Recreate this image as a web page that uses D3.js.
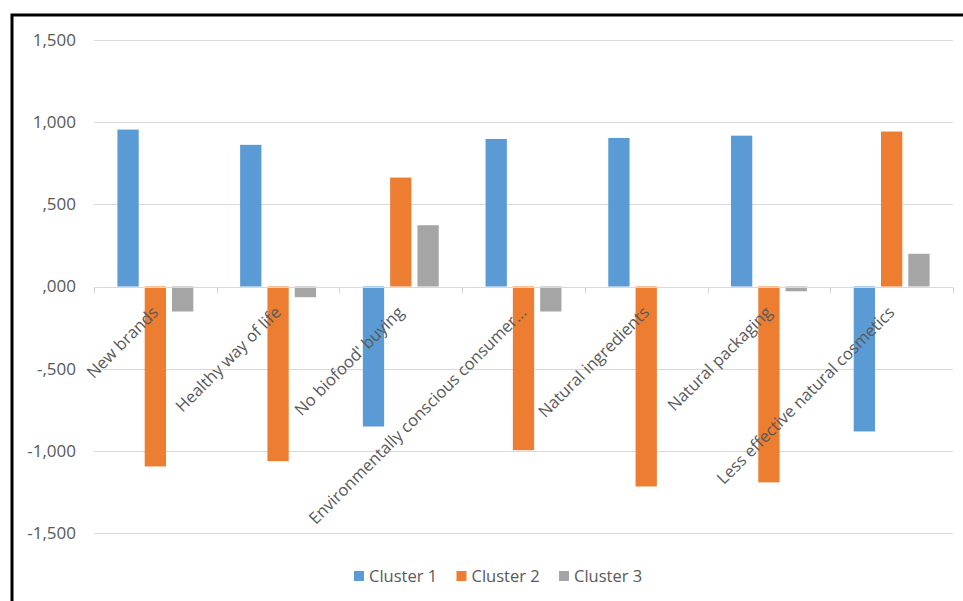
<!DOCTYPE html>
<html>
<head>
<meta charset="utf-8">
<script src="https://cdn.jsdelivr.net/npm/d3@7"></script>
<style>
  html, body { margin: 0; padding: 0; background: #fff; }
  svg { display: block; }
  text { font-family: "Open Sans", "Noto Sans", sans-serif; fill: #595959; }
</style>
</head>
<body>
<svg id="chart" width="963" height="601"></svg>
<script>
const categories = [
  "New brands",
  "Healthy way of life",
  "No biofood' buying",
  "Environmentally conscious consumer...",
  "Natural ingredients",
  "Natural packaging",
  "Less effective natural cosmetics"
];
const seriesNames = ["Cluster 1", "Cluster 2", "Cluster 3"];
const cluster1 = [955, 862, -852, 898, 904, 918, -882];
const cluster2 = [-1095, -1063, 663, -996, -1217, -1192, 943];
const cluster3 = [-152, -65, 373, -152, 0, -29, 199];
const yTicks = [1500, 1000, 500, 0, -500, -1000, -1500];
const yTickLabels = ["1,500", "1,000", ",500", ",000", "-,500", "-1,000", "-1,500"];
const colors = ["#5B9BD5", "#ED7D31", "#A5A5A5"];

const series = [cluster1, cluster2, cluster3];
const svg = d3.select("#chart");

// frame
svg.append("path")
  .attr("d", "M12,601 L12,15 L963,15")
  .attr("fill", "none").attr("stroke", "#000").attr("stroke-width", 3);

const x0 = d3.scaleBand().domain(categories).range([94, 953]).paddingInner(0).paddingOuter(0);
const y = d3.scaleLinear().domain([-1500, 1500]).range([533, 40]);
const inner = 3 * 21.3 + 2 * 6;
const x1 = d3.scaleBand().domain(seriesNames).range([0, inner]).paddingInner(6 / 27.3).paddingOuter(0);

// gridlines
svg.append("g").selectAll("line").data(yTicks.filter(d => d !== 0)).join("line")
  .attr("x1", 94).attr("x2", 953)
  .attr("y1", d => Math.round(y(d)) + 0.5).attr("y2", d => Math.round(y(d)) + 0.5)
  .attr("stroke", "#D9D9D9").attr("stroke-width", 1);

// y labels
svg.append("g").selectAll("text").data(yTicks).join("text")
  .attr("x", 76).attr("y", d => y(d))
  .attr("dy", "0.35em")
  .attr("text-anchor", "end")
  .style("font-size", "17px")
  .text((d, i) => yTickLabels[i]);

// bars
const groups = svg.append("g").selectAll("g").data(categories).join("g")
  .attr("transform", c => `translate(${x0(c) + (x0.bandwidth() - inner) / 2},0)`);
groups.selectAll("rect").data((c, ci) => series.map((s, si) => ({name: seriesNames[si], v: s[ci], si})))
  .join("rect")
  .attr("x", d => x1(d.name))
  .attr("width", x1.bandwidth())
  .attr("y", d => Math.min(y(d.v), y(0)))
  .attr("height", d => Math.abs(y(d.v) - y(0)))
  .attr("fill", d => colors[d.si]);

// zero axis
const zy = Math.round(y(0)) + 0.5;
svg.append("line").attr("x1", 94).attr("x2", 953).attr("y1", zy).attr("y2", zy)
  .attr("stroke", "#D9D9D9").attr("stroke-width", 1);
const tickXs = categories.map(c => x0(c)).concat([x0.range()[1]]);
svg.append("g").selectAll("line").data(tickXs).join("line")
  .attr("x1", d => Math.round(d) + 0.5).attr("x2", d => Math.round(d) + 0.5)
  .attr("y1", zy).attr("y2", zy + 6)
  .attr("stroke", "#D9D9D9").attr("stroke-width", 1);

// category labels
svg.append("g").selectAll("text").data(categories).join("text")
  .attr("text-anchor", "end")
  .style("font-size", "16.5px")
  .attr("transform", c => `translate(${x0(c) + x0.bandwidth() / 2 + 4},${y(0) + 27}) rotate(-45)`)
  .text(c => c);

// legend
const legend = svg.append("g").attr("transform", "translate(354,571)");
const li = legend.selectAll("g").data(seriesNames).join("g")
  .attr("transform", (d, i) => `translate(${i * 102.5},0)`);
li.append("rect").attr("width", 10).attr("height", 10).attr("fill", (d, i) => colors[i]);
li.append("text").attr("x", 15).attr("y", 5).attr("dy", "0.35em")
  .style("font-size", "16.5px").text(d => d);
</script>
</body>
</html>
